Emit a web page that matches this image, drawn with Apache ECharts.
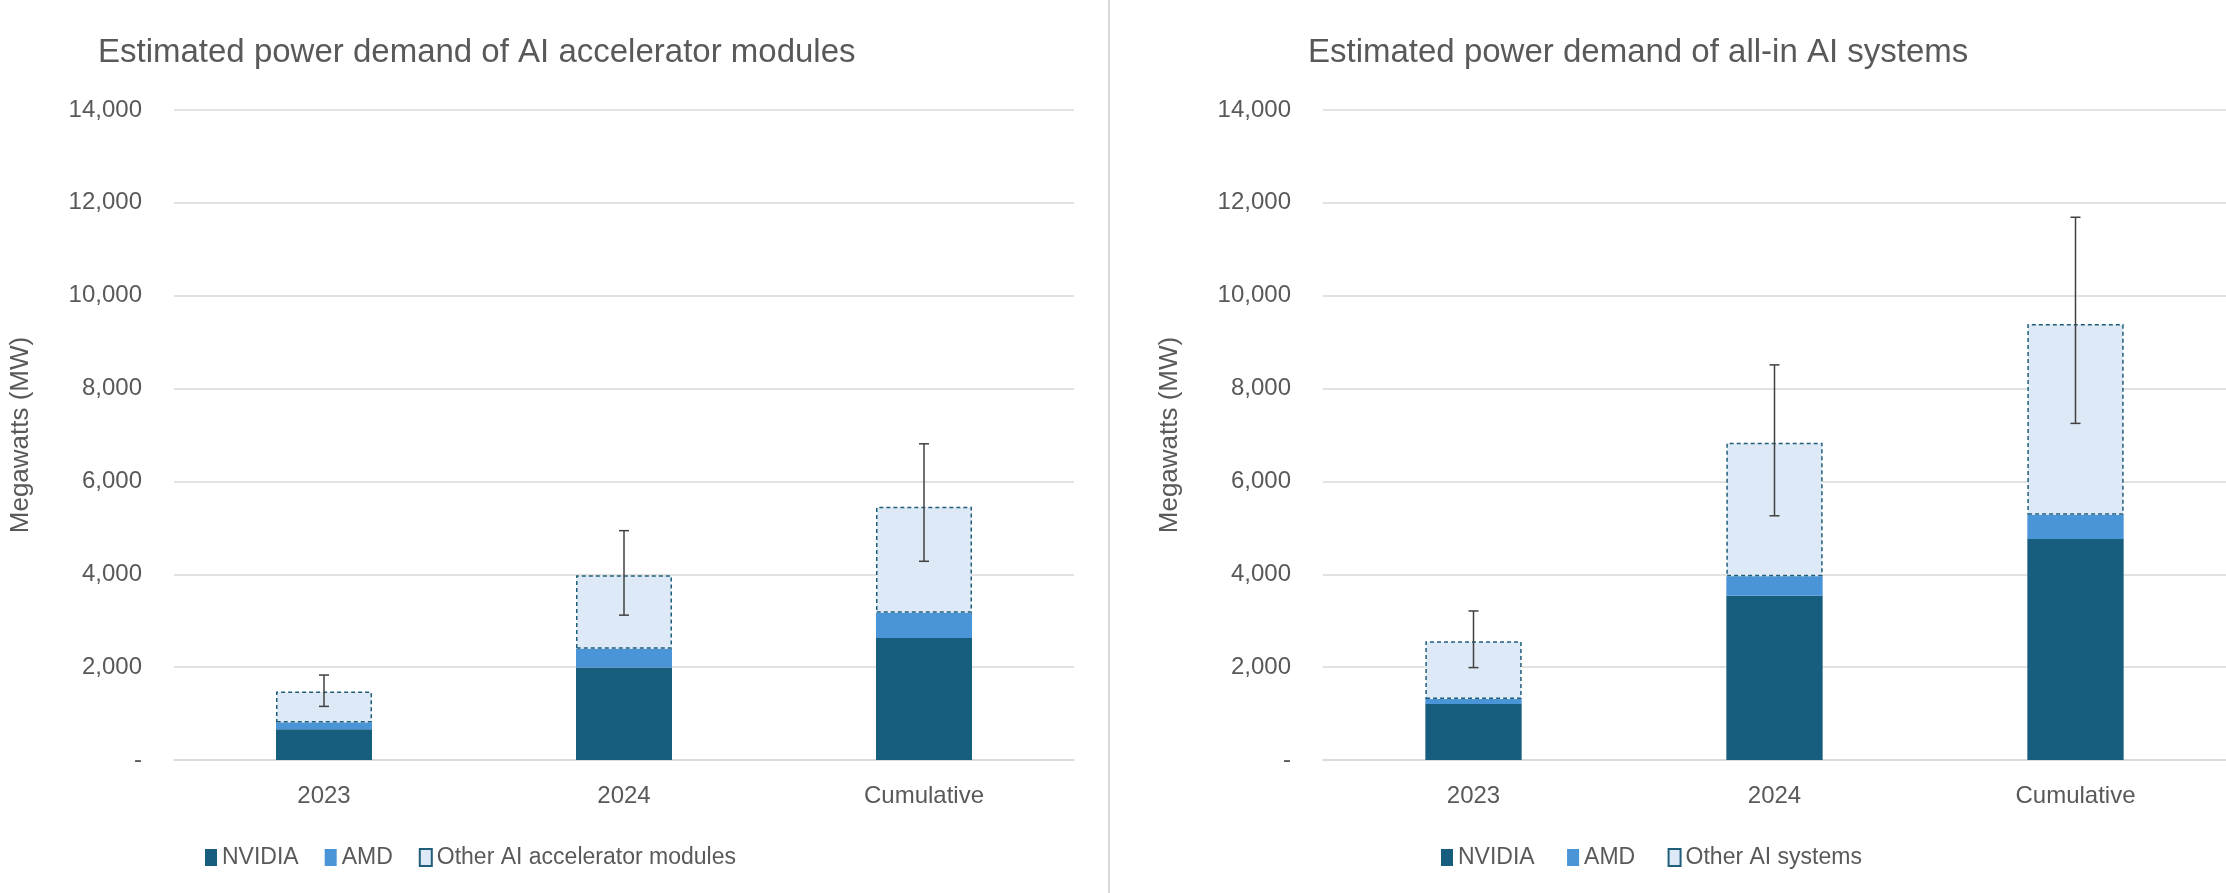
<!DOCTYPE html>
<html>
<head>
<meta charset="utf-8">
<script src="https://cdn.jsdelivr.net/npm/echarts@6/dist/echarts.min.js"></script>
<style>
  html, body { margin: 0; padding: 0; background: #fff; }
  #main { width: 2226px; height: 893px; }
</style>
</head>
<body>
<div id="main"></div>
<script>
// data (MW)
const categories = ['2023', '2024', 'Cumulative'];
const yTicks = [0, 2000, 4000, 6000, 8000, 10000, 12000, 14000];

const modNvidia = [665, 1990, 2630];
const modAmd = [145, 405, 540];
const modOther = [665, 1585, 2285];
const modErrLow = [1155, 3120, 4280];
const modErrHigh = [1830, 4940, 6810];

const sysNvidia = [1205, 3540, 4760];
const sysAmd = [110, 420, 525];
const sysOther = [1245, 2875, 4105];
const sysErrLow = [1990, 5260, 7250];
const sysErrHigh = [3210, 8510, 11690];

const textColor = '#595959';
const font = 'Liberation Sans';

function errorSeries(idx, low, high) {
    return {
        type: 'custom',
        xAxisIndex: idx, yAxisIndex: idx,
        data: categories.map((c, i) => [i, low[i], high[i]]),
        z: 10,
        renderItem: function (params, api) {
            let lo = api.coord([api.value(0), api.value(1)]);
            let hi = api.coord([api.value(0), api.value(2)]);
            let w = 5;
            let style = { stroke: '#404040', lineWidth: 1.5 };
            return {
                type: 'group',
                children: [
                    { type: 'line', shape: { x1: lo[0], y1: lo[1], x2: hi[0], y2: hi[1] }, style: style },
                    { type: 'line', shape: { x1: lo[0] - w, y1: lo[1], x2: lo[0] + w, y2: lo[1] }, style: style },
                    { type: 'line', shape: { x1: hi[0] - w, y1: hi[1], x2: hi[0] + w, y2: hi[1] }, style: style }
                ]
            };
        }
    };
}

function barSeries(idx, name, data, stack, color, dashed) {
    let s = {
        name: name,
        type: 'bar',
        stack: stack,
        xAxisIndex: idx, yAxisIndex: idx,
        barWidth: '32%',
        data: data,
        itemStyle: { color: color }
    };
    if (dashed) {
        s.itemStyle = { color: '#dde9f6', borderColor: '#1f5f7a', borderWidth: 1.5, borderType: [4, 3] };
    }
    return s;
}

function yAxis(idx) {
    return {
        type: 'value', gridIndex: idx, min: 0, max: 14000, interval: 2000,
        name: 'Megawatts (MW)', nameLocation: 'middle', nameGap: 140,
        nameTextStyle: { color: textColor, fontSize: 26, fontFamily: font },
        axisLine: { show: false }, axisTick: { show: false },
        axisLabel: {
            color: textColor, fontSize: 24, fontFamily: font, margin: 32,
            formatter: v => v === 0 ? '-' : v.toLocaleString('en-US')
        },
        splitLine: { lineStyle: { color: '#d9d9d9', width: 1.5 } }
    };
}

function xAxis(idx) {
    return {
        type: 'category', gridIndex: idx, data: categories,
        axisLine: { lineStyle: { color: '#d9d9d9', width: 1.5 } }, axisTick: { show: false },
        axisLabel: { color: textColor, fontSize: 24, fontFamily: font, margin: 24 }
    };
}

function chart() {
    let myChart = echarts.init(document.querySelector('#main'));
    let legendBase = {
        top: 841, icon: 'rect', itemWidth: 12, itemHeight: 17, itemGap: 26,
        textStyle: { color: textColor, fontSize: 23, fontFamily: font }
    };
    let option = {
        backgroundColor: '#fff',
        animation: false,
        title: [
            { text: 'Estimated power demand of AI accelerator modules', left: 93, top: 31,
              textStyle: { color: textColor, fontSize: 33, fontWeight: 'normal', fontFamily: font } },
            { text: 'Estimated power demand of all-in AI systems', left: 1303, top: 31,
              textStyle: { color: textColor, fontSize: 33, fontWeight: 'normal', fontFamily: font } }
        ],
        legend: [
            Object.assign({ data: ['NVIDIA', 'AMD', 'Other AI accelerator modules'], left: 200 }, legendBase),
            Object.assign({ data: ['NVIDIA ', 'AMD ', 'Other AI systems'], left: 1436 }, legendBase)
        ],
        grid: [
            { left: 174, right: 2226 - 1074, top: 110, bottom: 893 - 760 },
            { left: 1323, right: 0, top: 110, bottom: 893 - 760 }
        ],
        xAxis: [xAxis(0), xAxis(1)],
        yAxis: [yAxis(0), yAxis(1)],
        graphic: [
            { type: 'line', shape: { x1: 1109, y1: 0, x2: 1109, y2: 893 }, style: { stroke: '#d9d9d9', lineWidth: 2 } }
        ],
        series: [
            barSeries(0, 'NVIDIA', modNvidia, 'a', '#175e7e'),
            barSeries(0, 'AMD', modAmd, 'a', '#4a94d8'),
            barSeries(0, 'Other AI accelerator modules', modOther, 'a', null, true),
            errorSeries(0, modErrLow, modErrHigh),
            barSeries(1, 'NVIDIA ', sysNvidia, 'b', '#175e7e'),
            barSeries(1, 'AMD ', sysAmd, 'b', '#4a94d8'),
            barSeries(1, 'Other AI systems', sysOther, 'b', null, true),
            errorSeries(1, sysErrLow, sysErrHigh)
        ]
    };
    myChart.setOption(option);
}
chart();
</script>
</body>
</html>
